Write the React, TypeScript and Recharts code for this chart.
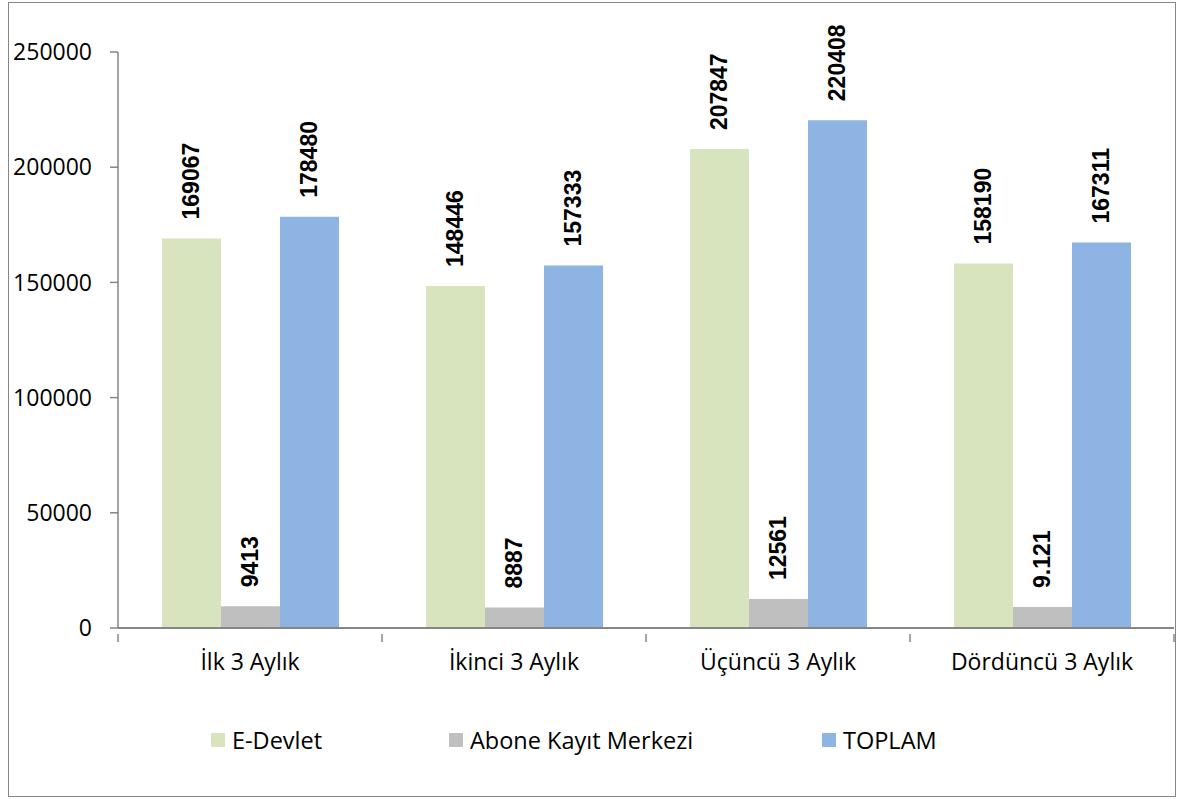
import { BarChart, Bar, XAxis, YAxis, Legend, LabelList } from 'recharts';

const categories = ['İlk 3 Aylık', 'İkinci 3 Aylık', 'Üçüncü 3 Aylık', 'Dördüncü 3 Aylık'];
const eDevlet = [169067, 148446, 207847, 158190];
const aboneKayit = [9413, 8887, 12561, 9121];
const aboneLabels = ['9413', '8887', '12561', '9.121'];
const toplam = [178480, 157333, 220408, 167311];
const yTicks = [0, 50000, 100000, 150000, 200000, 250000];

const series = [
  { key: 'eDevlet', label: 'eDevletLabel', name: 'E-Devlet', color: '#D7E4BD' },
  { key: 'abone', label: 'aboneLabel', name: 'Abone Kayıt Merkezi', color: '#BFBFBF' },
  { key: 'toplam', label: 'toplamLabel', name: 'TOPLAM', color: '#8EB4E3' },
];

const data = categories.map((c, i) => ({
  name: c,
  eDevlet: eDevlet[i],
  abone: aboneKayit[i],
  toplam: toplam[i],
  eDevletLabel: String(eDevlet[i]),
  aboneLabel: aboneLabels[i],
  toplamLabel: String(toplam[i]),
}));

const AXIS = '#868686';
const FONT = '"Open Sans", sans-serif';
const BAND = (1174 - 118) / 4;

function CategoryTick(props: any) {
  const { x, y, payload, index } = props;
  const axisY = y - 20;
  return (
    <g>
      <line x1={x - BAND / 2} x2={x - BAND / 2} y1={axisY} y2={axisY + 8} stroke={AXIS} strokeWidth={1.5} />
      {index === categories.length - 1 && (
        <line x1={x + BAND / 2} x2={x + BAND / 2} y1={axisY} y2={axisY + 8} stroke={AXIS} strokeWidth={1.5} />
      )}
      <text x={x} y={y} dy="0.71em" textAnchor="middle" fill="#000" fontSize={23} fontFamily={FONT}>
        {payload.value}
      </text>
    </g>
  );
}

function ValueLabel(props: any) {
  const { x, y, width, value } = props;
  const cx = x + width / 2;
  const cy = y - 19;
  return (
    <text
      x={cx}
      y={cy}
      transform={`rotate(-90 ${cx} ${cy})`}
      textAnchor="start"
      dominantBaseline="central"
      fontFamily='"Liberation Sans", Arial, sans-serif'
      fontWeight="bold"
      fontSize={23}
      fill="#000"
    >
      {value}
    </text>
  );
}

const legendLeft = [211, 449, 822];

function LegendContent() {
  return (
    <div style={{ position: 'relative', height: 60 }}>
      {series.map((s, i) => (
        <div
          key={s.key}
          style={{
            position: 'absolute',
            left: legendLeft[i],
            top: 15,
            height: 30,
            display: 'flex',
            alignItems: 'center',
            whiteSpace: 'nowrap',
            fontFamily: FONT,
            fontSize: 23.5,
            color: '#000',
          }}
        >
          <span style={{ display: 'inline-block', width: 14, height: 14, background: s.color, marginRight: 7 }} />
          {s.name}
        </div>
      ))}
    </div>
  );
}

export default function App() {
  return (
    <div style={{ position: 'absolute', left: 0, top: 0, width: 1183, height: 799, background: '#fff' }}>
      <div
        style={{
          position: 'absolute',
          left: 8,
          top: 2,
          width: 1168,
          height: 795,
          boxSizing: 'border-box',
          border: `1px solid ${AXIS}`,
        }}
      />
      <BarChart
        width={1183}
        height={799}
        data={data}
        margin={{ top: 52, right: 9, left: 0, bottom: 29 }}
        barCategoryGap={44}
        barGap={0}
        style={{ position: 'absolute', left: 0, top: 0 }}
      >
        <XAxis
          dataKey="name"
          height={82}
          axisLine={{ stroke: AXIS, strokeWidth: 2 }}
          tickLine={false}
          tickMargin={20}
          tick={<CategoryTick />}
          interval={0}
        />
        <YAxis
          width={118}
          domain={[0, 250000]}
          ticks={yTicks}
          interval={0}
          axisLine={{ stroke: AXIS, strokeWidth: 1.5 }}
          tickLine={{ stroke: AXIS, strokeWidth: 1.5 }}
          tickSize={8}
          tickMargin={18}
          tick={{ fill: '#000', fontSize: 23, fontFamily: FONT }}
        />
        <Legend verticalAlign="bottom" height={60} content={<LegendContent />} />
        {series.map((s) => (
          <Bar key={s.key} dataKey={s.key} name={s.name} fill={s.color} isAnimationActive={false}>
            <LabelList dataKey={s.label} content={<ValueLabel />} />
          </Bar>
        ))}
      </BarChart>
    </div>
  );
}
